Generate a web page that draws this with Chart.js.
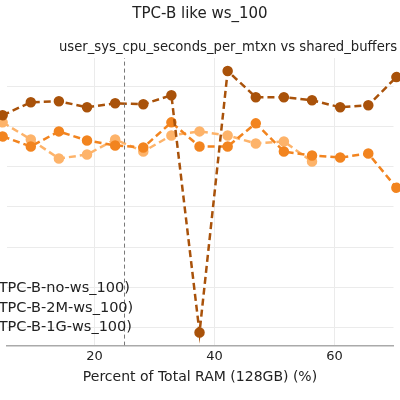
<!DOCTYPE html>
<html>
<head>
<script src="https://cdn.jsdelivr.net/npm/chart.js@4"></script>
<style>body{margin:0;background:#fff}#wrap{width:400px;height:400px}</style>
</head>
<body>
<div id="wrap"><canvas id="c"></canvas></div>
<script>
var ramPct = [4.69,9.38,14.06,18.75,23.44,28.13,32.81,37.5,42.19,46.88,51.56,56.25,60.94,65.63,70.31];
var cpu1G = [6.275,6.6,6.625,6.475,6.575,6.55,6.775,0.875,7.375,6.725,6.725,6.65,6.475,6.525,7.225];
var cpu2M = [5.75,5.5,5.875,5.65,5.525,5.475,6.1,5.5,5.5,6.075,5.375,5.275,5.225,5.325,4.475];
var cpuNo = [6.1,5.675,5.2,5.3,5.675,5.375,5.775,5.875,5.775,5.575,5.625,5.125];
var markerX = 25;
var legendNames = ['(TPC-B-no-ws_100)','(TPC-B-2M-ws_100)','(TPC-B-1G-ws_100)'];

function pts(v) {
    var out = [];
    for (var i = 0; i < v.length; i++) out.push({x: ramPct[i], y: v[i]});
    return out;
}
function ds(label, v, col) {
    return {label: label, data: pts(v), borderColor: col, backgroundColor: col, clip: 8,
        borderWidth: 2.5, borderDash: [7,4], pointRadius: 4, pointHoverRadius: 4, tension: 0};
}

var yMin = 0.55, yMax = 7.7;

var textPlugin = {
    id: 'texts',
    afterDraw: function(chart) {
        var ctx = chart.ctx;
        ctx.save();
        ctx.fillStyle = '#222';
        ctx.font = '15px "DejaVu Sans"';
        ctx.textAlign = 'center';
        ctx.textBaseline = 'middle';
        ctx.fillText('TPC-B like ws_100', 200, 14);
        ctx.font = '13.2px "DejaVu Sans"';
        ctx.textAlign = 'left';
        ctx.fillText('user_sys_cpu_seconds_per_mtxn vs shared_buffers', 59, 48);
        ctx.font = '14.5px "DejaVu Sans"';
        var ys = [288, 308, 327];
        for (var i = 0; i < legendNames.length; i++) ctx.fillText(legendNames[i], -7, ys[i]);
        ctx.restore();
    }
};

new Chart(document.getElementById('c').getContext('2d'), {
    type: 'line',
    data: {
        datasets: [
            {label: 'marker', data: [{x: markerX, y: yMin}, {x: markerX, y: yMax}], borderColor: '#777',
             borderWidth: 1, borderDash: [4,3], pointRadius: 0},
            ds('1G', cpu1G, '#a9520a'),
            ds('2M', cpu2M, '#f2841f'),
            ds('no', cpuNo, '#fdb36a')
        ]
    },
    plugins: [textPlugin],
    options: {
        responsive: true,
        maintainAspectRatio: false,
        animation: false,
        layout: {padding: {top: 58, left: 0, right: 0, bottom: 10}},
        plugins: {legend: {display: false}, tooltip: {enabled: false}},
        scales: {
            x: {
                type: 'linear', min: 5.33, max: 69.83,
                afterBuildTicks: function(s) { s.ticks = [{value: 20}, {value: 40}, {value: 60}]; },
                ticks: {color: '#222', font: {family: 'DejaVu Sans', size: 13}},
                grid: {color: '#ebebeb', drawTicks: false},
                border: {color: '#aaa', width: 1.5},
                title: {display: true, text: 'Percent of Total RAM (128GB) (%)', color: '#222',
                        font: {family: 'DejaVu Sans', size: 14}, padding: {top: 2}}
            },
            y: {
                min: yMin, max: yMax,
                afterBuildTicks: function(s) { s.ticks = [1,2,3,4,5,6,7].map(function(v){return {value: v};}); },
                afterFit: function(s) { s.width = 0; },
                ticks: {display: false},
                grid: {color: '#ebebeb', drawTicks: false},
                border: {display: false}
            }
        }
    }
});
</script>
</body>
</html>
